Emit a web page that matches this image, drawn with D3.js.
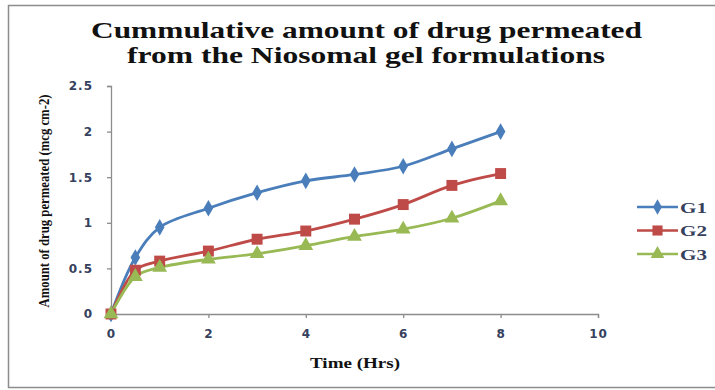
<!DOCTYPE html>
<html>
<head>
<meta charset="utf-8">
<script src="https://cdn.jsdelivr.net/npm/d3@7"></script>
<style>
  html, body { margin: 0; padding: 0; background: #fff; }
  svg { display: block; }
</style>
</head>
<body>
<svg id="chart" width="715" height="390"></svg>
<script>
// Sampling times (hours) and cumulative permeation per formulation
const times = [0, 0.5, 1, 2, 3, 4, 5, 6, 7, 8];
const g1 = [0, 0.62, 0.95, 1.16, 1.33, 1.46, 1.53, 1.62, 1.81, 2.00];
const g2 = [0, 0.48, 0.58, 0.69, 0.82, 0.91, 1.04, 1.20, 1.41, 1.54];
const g3 = [0, 0.41, 0.51, 0.60, 0.66, 0.75, 0.85, 0.93, 1.05, 1.24];
const seriesNames = ["G1", "G2", "G3"];
const xTicks = [0, 2, 4, 6, 8, 10];
const yTicks = [0, 0.5, 1, 1.5, 2, 2.5];

const colors = { G1: "#4a7ebb", G2: "#be4b48", G3: "#98b954" };
const symbols = { G1: d3.symbolDiamond, G2: d3.symbolSquare, G3: d3.symbolTriangle };
const symSize = { G1: 80, G2: 120, G3: 95 };

const series = [
  { name: "G1", values: g1 },
  { name: "G2", values: g2 },
  { name: "G3", values: g3 }
];

const serif = "Liberation Serif, Times New Roman, serif";
const tickFont = "DejaVu Sans, Verdana, sans-serif";
const tickColor = "#36415e";

const svg = d3.select("#chart");

// chart frame
svg.append("rect").attr("x", 8.5).attr("y", 5.5).attr("width", 720).attr("height", 382)
  .attr("fill", "none").attr("stroke", "#8c8c8c").attr("stroke-width", 1.5);

const x = d3.scaleLinear().domain([0, 10]).range([111, 598]);
const y = d3.scaleLinear().domain([0, 2.5]).range([314, 86]);

// title
const title = svg.append("text").attr("text-anchor", "start")
  .attr("font-family", serif).attr("font-weight", "bold")
  .attr("font-size", 23).attr("fill", "#111");
title.append("tspan").attr("x", 91).attr("y", 38)
  .attr("textLength", 551).attr("lengthAdjust", "spacingAndGlyphs")
  .text("Cummulative amount of drug permeated");
title.append("tspan").attr("x", 127).attr("y", 63)
  .attr("textLength", 478).attr("lengthAdjust", "spacingAndGlyphs")
  .text("from the Niosomal gel formulations");

// axes
const yAxis = svg.append("g").attr("transform", "translate(111,0)")
  .call(d3.axisLeft(y).tickValues(yTicks).tickSize(4).tickPadding(14).tickFormat(d3.format("")));
const xAxis = svg.append("g").attr("transform", "translate(0,314)")
  .call(d3.axisBottom(x).tickValues(xTicks).tickSize(4).tickPadding(11));
[yAxis, xAxis].forEach(a => {
  a.select(".domain").attr("stroke", "#8c8c8c").attr("stroke-width", 1.3);
  a.selectAll(".tick line").attr("stroke", "#8c8c8c").attr("stroke-width", 1.3);
  a.selectAll(".tick text").attr("font-family", tickFont).attr("font-size", 12)
    .attr("font-weight", "bold").attr("fill", tickColor).attr("letter-spacing", 1);
});

// axis titles
svg.append("text").attr("text-anchor", "middle")
  .attr("transform", "translate(49,201) rotate(-90)")
  .attr("font-family", serif).attr("font-weight", "bold")
  .attr("font-size", 15).attr("fill", "#111")
  .attr("textLength", 213).attr("lengthAdjust", "spacingAndGlyphs")
  .text("Amount of drug permeated (mcg cm-2)");
svg.append("text").attr("x", 310).attr("y", 368)
  .attr("font-family", serif).attr("font-weight", "bold")
  .attr("font-size", 14).attr("fill", "#111")
  .attr("textLength", 90).attr("lengthAdjust", "spacingAndGlyphs")
  .text("Time (Hrs)");

// smoothed lines
const line = d3.line()
  .x((d, i) => x(times[i]))
  .y(d => y(d))
  .curve(d3.curveCatmullRom.alpha(0.5));

const plot = svg.append("g");
series.forEach(s => {
  plot.append("path").datum(s.values)
    .attr("fill", "none").attr("stroke", colors[s.name]).attr("stroke-width", 2.8)
    .attr("d", line);
});
series.forEach(s => {
  plot.selectAll(null).data(s.values).enter().append("path")
    .attr("transform", (d, i) => `translate(${x(times[i])},${y(d)})`)
    .attr("d", d3.symbol().type(symbols[s.name]).size(symSize[s.name]))
    .attr("fill", colors[s.name]);
});

// legend
const legend = svg.append("g");
seriesNames.forEach((n, i) => {
  const ly = 207 + i * 23.5;
  legend.append("line").attr("x1", 637).attr("x2", 678).attr("y1", ly).attr("y2", ly)
    .attr("stroke", colors[n]).attr("stroke-width", 2.6);
  legend.append("path").attr("transform", `translate(657.5,${ly})`)
    .attr("d", d3.symbol().type(symbols[n]).size(symSize[n] * 0.85))
    .attr("fill", colors[n]);
  legend.append("text").attr("x", 680).attr("y", ly + 5.5)
    .attr("font-family", serif).attr("font-weight", "bold")
    .attr("font-size", 15).attr("fill", tickColor)
    .attr("textLength", 27).attr("lengthAdjust", "spacingAndGlyphs").text(n);
});
</script>
</body>
</html>
